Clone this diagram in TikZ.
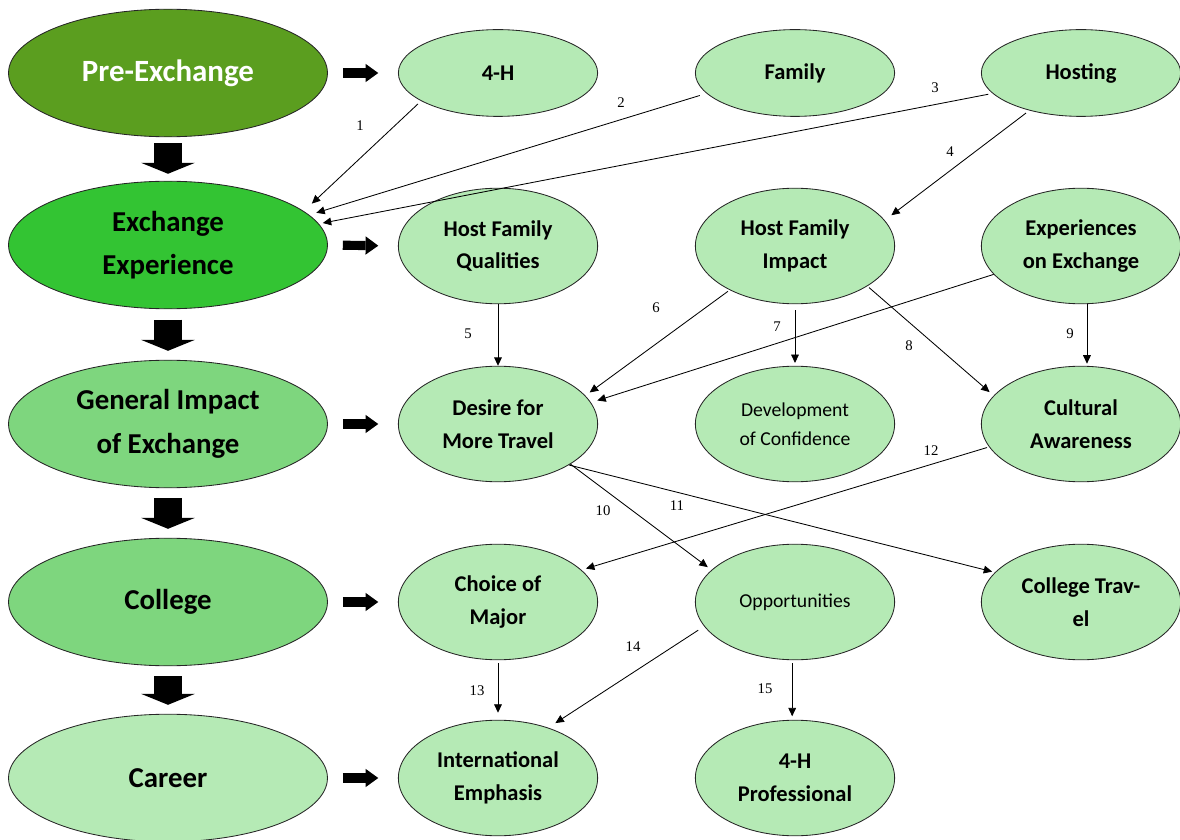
\documentclass[tikz,border=0pt]{standalone}
\usepackage{fontspec}
\setmainfont{Carlito}
\newfontfamily\numfont{Liberation Serif}
\usetikzlibrary{arrows.meta,positioning,shapes.geometric}

\definecolor{stagedark}{RGB}{91,158,31}
\definecolor{stagemid}{RGB}{51,196,51}
\definecolor{stagelight}{RGB}{126,214,126}
\definecolor{topicfill}{RGB}{181,234,181}

\tikzset{
stagestyle/.style={
  ellipse,
  line width=0.6pt,
  inner sep=0pt,
  minimum width=226.8pt,
  minimum height=90.7pt,
  align=center,
  draw=black!85,
  font=\bfseries\fontsize{20.5}{31}\selectfont,
  }
}
\tikzset{
topicstyle/.style={
  ellipse,
  line width=0.6pt,
  inner sep=0pt,
  minimum width=141.7pt,
  minimum height=82.2pt,
  align=center,
  draw=black!85,
  fill=topicfill,
  font=\bfseries\fontsize{16}{23.4}\selectfont,
  }
}
\tikzset{
toprow/.style={
  topicstyle,
  minimum height=61.7pt,
  }
}
\tikzset{
plaintext/.style={
  font=\fontsize{14}{20.5}\selectfont,
  }
}
\tikzset{
numstyle/.style={
  inner sep=0pt,
  font=\numfont\fontsize{10.5}{12}\selectfont,
  }
}
\tikzset{
myline/.style={
  line width=0.6pt,
  -{Triangle[length=6pt,width=5.5pt]}
  }
}
\tikzset{
downblock/.style={
  line width=19.8pt,
  -{Triangle[length=7.8pt,width=38.3pt,line width=0pt]},
  shorten <=4.3pt,
  shorten >=5pt
  }
}
\tikzset{
rightblock/.style={
  line width=6.5pt,
  -{Triangle[length=9pt,width=13pt,line width=0pt]},
  shorten <=10.6pt,
  shorten >=14pt
  }
}

\begin{document}
\begin{tikzpicture}[x=0.025cm,y=-0.025cm]
    \useasboundingbox (0,0) rectangle (1180,840);

    % stages
    \node[stagestyle, fill=stagedark, text=white, font=\bfseries\fontsize{22}{31}\selectfont] (pre) at (168,73) {Pre-Exchange};
    \node[stagestyle, fill=stagemid] (ee) at (168,245) {Exchange\\Experience};
    \node[stagestyle, fill=stagelight] (gi) at (168,424) {General Impact\\of Exchange};
    \node[stagestyle, fill=stagelight] (col) at (168,602) {College};
    \node[stagestyle, fill=topicfill] (car) at (168,778) {Career};

    % pre-exchange topics
    \node[toprow] (fourh) at (498,73) {4-H};
    \node[toprow] (fam) at (795,73) {Family};
    \node[toprow] (host) at (1081,73) {Hosting};

    % exchange topics
    \node[topicstyle] (hfq) at (498,246) {Host Family\\Qualities};
    \node[topicstyle] (hfi) at (795,246) {Host Family\\Impact};
    \node[topicstyle] (exo) at (1081,246) {Experiences\\on Exchange};

    % impact topics
    \node[topicstyle] (dft) at (498,424) {Desire for\\More Travel};
    \node[topicstyle, plaintext] (doc) at (795,424) {Development\\of Confidence};
    \node[topicstyle] (cua) at (1081,424) {Cultural\\Awareness};

    % college topics
    \node[topicstyle] (com) at (498,602) {Choice of\\Major};
    \node[topicstyle, plaintext] (opp) at (795,602) {Opportunities};
    \node[topicstyle] (ctr) at (1081,602) {College Trav-\\el};

    % career topics
    \node[topicstyle] (ine) at (498,778) {International\\Emphasis};
    \node[topicstyle] (prof) at (795,778) {4-H\\Professional};

    % block arrows
    \draw[downblock] (pre.south) -- (ee.north);
    \draw[downblock, shorten <=7.5pt, shorten >=6.4pt] (ee.south) -- (gi.north);
    \draw[downblock, shorten <=7pt, shorten >=6.4pt] (gi.south) -- (col.north);
    \draw[downblock, shorten <=7pt, shorten >=6.4pt] (col.south) -- (car.north);
    \draw[rightblock] (pre.east) -- (fourh.west);
    \draw[rightblock] (ee.east) -- (hfq.west);
    \draw[rightblock] (gi.east) -- (dft.west);
    \draw[rightblock] (col.east) -- (com.west);
    \draw[rightblock] (car.east) -- (ine.west);

    % pre-exchange edges
    \draw[myline, shorten <=3pt, shorten >=7.8pt] (fourh.200) -- (ee.14);
    \draw[myline, shorten <=5pt, shorten >=5.2pt] (fam.193) -- (ee.12);
    \draw[myline, shorten <=3pt, shorten >=2.8pt] (host.193) -- (ee.8);
    \draw[myline, shorten <=3pt, shorten >=5.9pt] (host.216) -- (hfi.16);

    % exchange edges
    \draw[myline] (hfq.south) -- (dft.north);
    \draw[myline, shorten <=1.5pt, shorten >=3.8pt] (hfi.214) -- (dft.18);
    \draw[myline, shorten <=4.3pt, shorten >=2pt] (hfi.south) -- (doc.north);
    \draw[myline, shorten <=1.5pt, shorten >=3.8pt] (hfi.-29) -- (cua.162);
    \draw[myline, shorten >=4.7pt] (exo.198) -- (dft.13);
    \draw[myline, shorten >=1.5pt] ([xshift=4.25pt]exo.south) -- ([xshift=4.25pt]cua.north);

    % impact edges
    \draw[myline, shorten >=3.3pt] (dft.-29) -- (opp.159);
    \draw[myline, shorten >=2pt] (dft.-30) -- (ctr.161);
    \draw[myline, shorten <=1.5pt, shorten >=3.3pt] (cua.194.5) -- (com.21.6);

    % college edges
    \draw[myline, shorten <=2pt, shorten >=5pt] (com.south) -- (ine.north);
    \draw[myline, shorten <=5pt, shorten >=6pt] (opp.195.6) -- (ine.45.3);
    \draw[myline, shorten <=2pt, shorten >=2.5pt] ([xshift=-2pt]opp.south) -- ([xshift=-2pt]prof.north);

    % edge numbers
    \node[numstyle] (n1) at (360,126) {1};
    \node[numstyle] (n2) at (621,103) {2};
    \node[numstyle] (n3) at (935,88) {3};
    \node[numstyle] (n4) at (950,152) {4};
    \node[numstyle] (n5) at (468,334) {5};
    \node[numstyle] (n6) at (656,308) {6};
    \node[numstyle] (n7) at (777,327) {7};
    \node[numstyle] (n8) at (909,346) {8};
    \node[numstyle] (n9) at (1070,334) {9};
    \node[numstyle] (n10) at (603,511) {10};
    \node[numstyle] (n11) at (677,506) {11};
    \node[numstyle] (n12) at (931,451) {12};
    \node[numstyle] (n13) at (477,691) {13};
    \node[numstyle] (n14) at (633,647) {14};
    \node[numstyle] (n15) at (765,689) {15};
\end{tikzpicture}
\end{document}
